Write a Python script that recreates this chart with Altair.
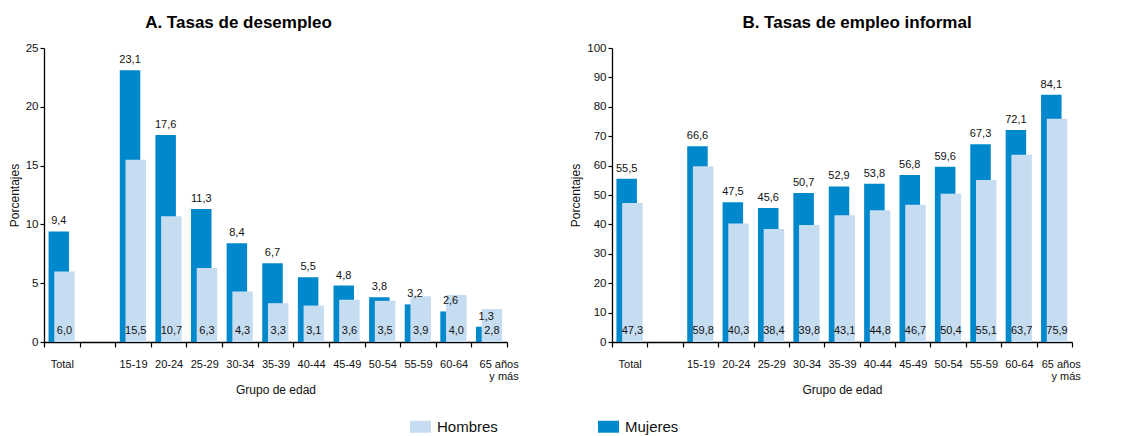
import altair as alt
import pandas as pd

categorias = ["Total", " ", "15-19", "20-24", "25-29", "30-34", "35-39", "40-44",
              "45-49", "50-54", "55-59", "60-64", "65 años y más"]
grupos = ["Total", "15-19", "20-24", "25-29", "30-34", "35-39", "40-44",
          "45-49", "50-54", "55-59", "60-64", "65 años y más"]

desempleo_mujeres = [9.4, 23.1, 17.6, 11.3, 8.4, 6.7, 5.5, 4.8, 3.8, 3.2, 2.6, 1.3]
desempleo_hombres = [6.0, 15.5, 10.7, 6.3, 4.3, 3.3, 3.1, 3.6, 3.5, 3.9, 4.0, 2.8]
informal_mujeres = [55.5, 66.6, 47.5, 45.6, 50.7, 52.9, 53.8, 56.8, 59.6, 67.3, 72.1, 84.1]
informal_hombres = [47.3, 59.8, 40.3, 38.4, 39.8, 43.1, 44.8, 46.7, 50.4, 55.1, 63.7, 75.9]

series = ["Hombres", "Mujeres"]
LIGHT = "#c6dcf1"
DARK = "#0088cc"
FONT = "Liberation Sans"
ULTIMO = "65 años y más"


def make_df(muj, hom):
    rows = []
    for g, m, h in zip(grupos, muj, hom):
        rows.append({"grupo": g, "serie": "Mujeres", "valor": m, "base": 0,
                     "etiqueta": f"{m:.1f}".replace(".", ",")})
        rows.append({"grupo": g, "serie": "Hombres", "valor": h, "base": 0,
                     "etiqueta": f"{h:.1f}".replace(".", ",")})
    return pd.DataFrame(rows)


def panel(df, title, ymax, ystep, width, height, title_dx, last_off):
    test = f"datum.value == '{ULTIMO}'"
    x = alt.X("grupo:N", sort=categorias,
              scale=alt.Scale(domain=categorias, paddingInner=0, paddingOuter=0),
              axis=alt.Axis(title="Grupo de edad", labelAngle=0, tickBand="extent",
                            labelExpr=f"{test} ? ['65 años', 'y más'] : datum.value",
                            labelAlign={"condition": {"test": test, "value": "right"},
                                        "value": "center"},
                            labelOffset={"condition": {"test": test, "value": last_off},
                                         "value": 0},
                            labelFontSize=11, labelPadding=11, tickSize=5,
                            titlePadding=3, labelLineHeight=12))
    yscale = alt.Scale(domain=[0, ymax], nice=False)
    yaxis = alt.Axis(values=list(range(0, ymax + 1, ystep)), title="Porcentajes",
                     grid=False, tickSize=4, labelPadding=2, labelFontSize=11.5,
                     labelOverlap=False, titlePadding=4, tickCount=len(range(0, ymax + 1, ystep)))
    y = alt.Y("valor:Q", scale=yscale, axis=yaxis)
    y0 = alt.Y("base:Q", scale=yscale, axis=yaxis)
    legend = alt.Legend(title=None, orient="none", direction="horizontal",
                        legendX=366, legendY=368,
                        symbolType="M-1,-0.57H1V0.57H-1Z", symbolSize=441,
                        symbolStrokeWidth=0, symbolOpacity=1,
                        labelFontSize=15, labelOffset=6, columnPadding=100,
                        labelFont=FONT, labelColor="#111")
    color = alt.Color("serie:N", scale=alt.Scale(domain=series, range=[LIGHT, DARK]),
                      legend=legend)
    base = alt.Chart(df).encode(x=x)
    muj = base.transform_filter("datum.serie == 'Mujeres'")
    hom = base.transform_filter("datum.serie == 'Hombres'")
    dark = muj.mark_bar(width=20.5, xOffset=-3).encode(y=y, color=color)
    light = hom.mark_bar(width=20.5, xOffset=2.7).encode(y=y, color=color)
    dark_lbl = muj.mark_text(xOffset=-3, baseline="bottom", dy=-5, fontSize=11,
                             font=FONT, color="#111").encode(y=y, text="etiqueta:N")
    light_lbl = hom.mark_text(xOffset=2.7, baseline="middle", dy=-11, fontSize=11,
                              font=FONT, color="#111").encode(y=y0, text="etiqueta:N")
    return alt.layer(dark, light, dark_lbl, light_lbl).properties(
        width=width, height=height,
        title=alt.TitleParams(title, fontSize=17, fontWeight="bold", font=FONT,
                              anchor="middle", dx=title_dx, offset=-7,
                              baseline="bottom", color="#000"))


a = panel(make_df(desempleo_mujeres, desempleo_hombres), "A. Tasas de desempleo",
          25, 5, 463, 294, -37, 29)
b = panel(make_df(informal_mujeres, informal_hombres), "B. Tasas de empleo informal",
          100, 10, 460, 294, 15, 26)

chart = alt.hconcat(a, b, spacing=105, bounds="flush").properties(
    padding={"left": 0, "top": 6, "right": 0, "bottom": 0}
).configure_view(stroke=None).configure_axis(
    labelFont=FONT, titleFont=FONT, labelColor="#111", titleColor="#111",
    titleFontSize=12, titleFontWeight="normal", domainColor="#000", tickColor="#000",
    domainWidth=1.3, tickWidth=1.2
)

chart.save("out.html", embed_options={"renderer": "svg", "actions": False})
